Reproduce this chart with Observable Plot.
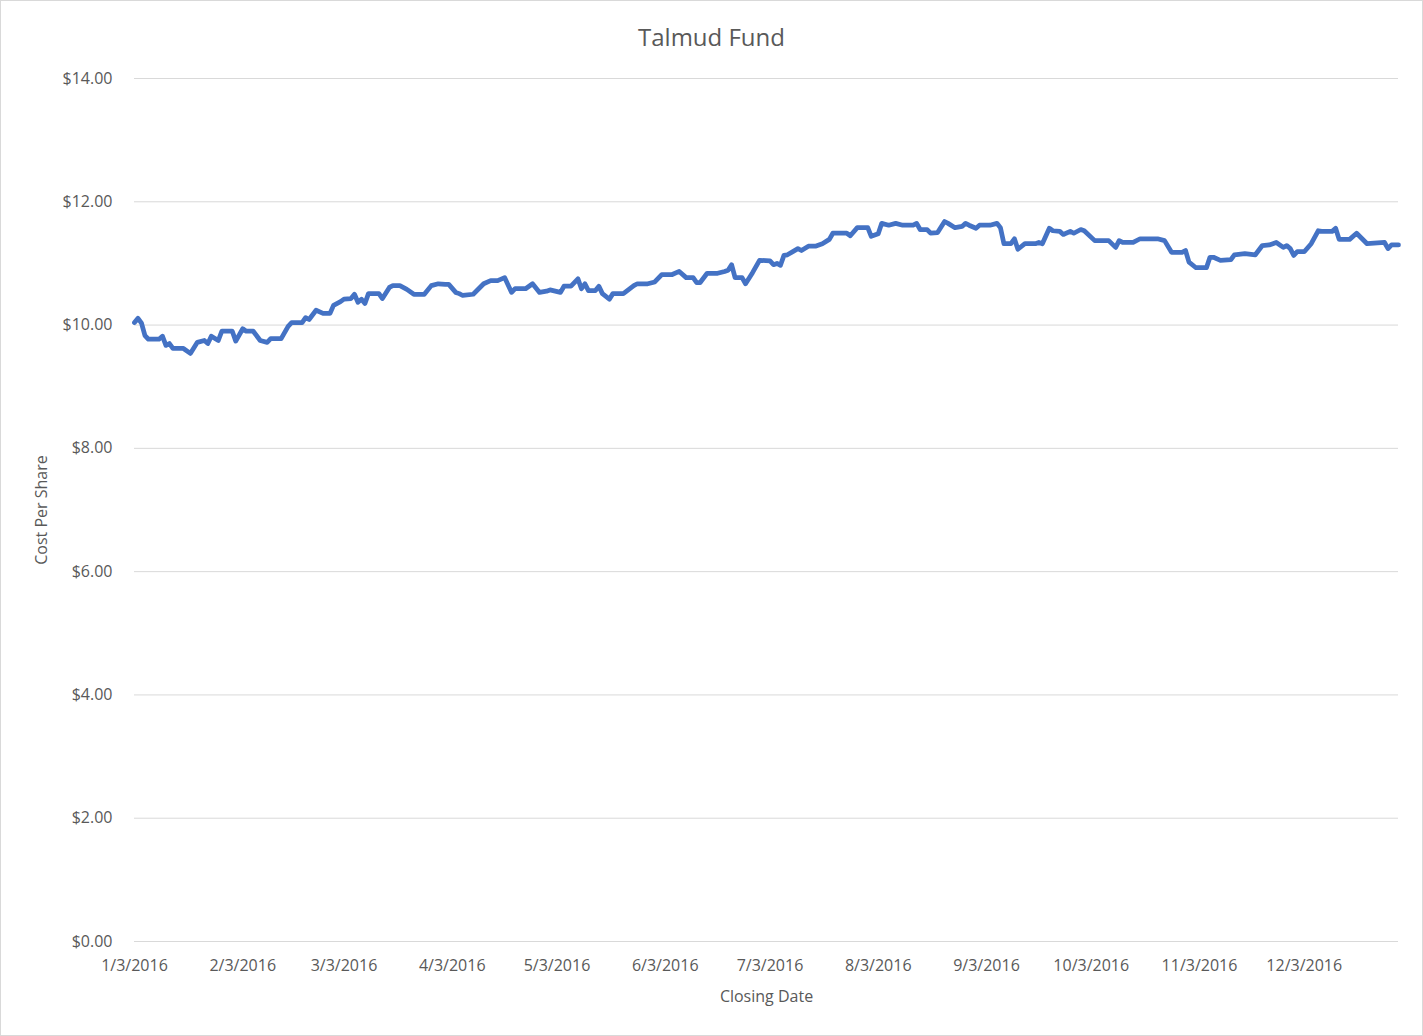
<!DOCTYPE html>
<html>
<head>
<meta charset="utf-8">
<script src="https://cdn.jsdelivr.net/npm/d3@7"></script>
<script src="https://cdn.jsdelivr.net/npm/@observablehq/plot@0.6"></script>
<style>
  body { margin: 0; background: #fff; }
  #wrap { position: relative; width: 1423px; height: 1036px; }
  #border { position: absolute; left: 0; top: 0; width: 1423px; height: 1036px;
    box-sizing: border-box; border: 1px solid #d9d9d9; pointer-events: none; }
</style>
</head>
<body>
<div id="wrap"><div id="chart"></div><div id="border"></div></div>
<script>
const title = 'Talmud Fund'
const yLabel = 'Cost Per Share'
const xLabel = 'Closing Date'

// closing dates
const dates = [
  '2016-01-03','2016-01-04','2016-01-05','2016-01-06','2016-01-07','2016-01-10','2016-01-11','2016-01-12',
  '2016-01-13','2016-01-14','2016-01-17','2016-01-19','2016-01-21','2016-01-23','2016-01-24','2016-01-25',
  '2016-01-27','2016-01-28','2016-01-31','2016-02-01','2016-02-03','2016-02-04','2016-02-06','2016-02-08',
  '2016-02-10','2016-02-11','2016-02-14','2016-02-16','2016-02-17','2016-02-20','2016-02-21','2016-02-22',
  '2016-02-24','2016-02-26','2016-02-28','2016-02-29','2016-03-02','2016-03-03','2016-03-05','2016-03-06',
  '2016-03-07','2016-03-08','2016-03-09','2016-03-10','2016-03-13','2016-03-14','2016-03-16','2016-03-17',
  '2016-03-19','2016-03-21','2016-03-23','2016-03-26','2016-03-28','2016-03-30','2016-04-01','2016-04-02',
  '2016-04-04','2016-04-05','2016-04-06','2016-04-09','2016-04-12','2016-04-14','2016-04-16','2016-04-18',
  '2016-04-20','2016-04-21','2016-04-24','2016-04-26','2016-04-28','2016-04-30','2016-05-01','2016-05-04',
  '2016-05-05','2016-05-07','2016-05-09','2016-05-10','2016-05-11','2016-05-12','2016-05-14','2016-05-15',
  '2016-05-16','2016-05-18','2016-05-19','2016-05-22','2016-05-25','2016-05-26','2016-05-29','2016-05-31',
  '2016-06-02','2016-06-05','2016-06-07','2016-06-09','2016-06-11','2016-06-12','2016-06-13','2016-06-15',
  '2016-06-18','2016-06-20','2016-06-21','2016-06-22','2016-06-23','2016-06-25','2016-06-26','2016-06-28',
  '2016-06-30','2016-07-03','2016-07-04','2016-07-05','2016-07-06','2016-07-07','2016-07-08','2016-07-11',
  '2016-07-12','2016-07-14','2016-07-16','2016-07-18','2016-07-20','2016-07-21','2016-07-25','2016-07-26',
  '2016-07-28','2016-07-31','2016-08-01','2016-08-03','2016-08-04','2016-08-06','2016-08-08','2016-08-10',
  '2016-08-13','2016-08-14','2016-08-15','2016-08-17','2016-08-18','2016-08-20','2016-08-22','2016-08-23',
  '2016-08-25','2016-08-27','2016-08-28','2016-08-29','2016-08-31','2016-09-01','2016-09-04','2016-09-06',
  '2016-09-07','2016-09-08','2016-09-10','2016-09-11','2016-09-12','2016-09-14','2016-09-17','2016-09-18',
  '2016-09-19','2016-09-21','2016-09-22','2016-09-24','2016-09-25','2016-09-27','2016-09-28','2016-09-30',
  '2016-10-01','2016-10-04','2016-10-08','2016-10-10','2016-10-11','2016-10-12','2016-10-15','2016-10-17',
  '2016-10-22','2016-10-24','2016-10-26','2016-10-29','2016-10-30','2016-10-31','2016-11-02','2016-11-05',
  '2016-11-06','2016-11-07','2016-11-09','2016-11-12','2016-11-13','2016-11-16','2016-11-19','2016-11-21',
  '2016-11-23','2016-11-25','2016-11-27','2016-11-28','2016-11-29','2016-11-30','2016-12-01','2016-12-03',
  '2016-12-05','2016-12-07','2016-12-08','2016-12-11','2016-12-12','2016-12-13','2016-12-16','2016-12-18',
  '2016-12-21','2016-12-26','2016-12-27','2016-12-28','2016-12-30'
]

const prices = [
  10.04,10.11,10.03,9.83,9.77,9.77,9.82,9.67,
  9.70,9.62,9.62,9.54,9.72,9.75,9.70,9.82,
  9.75,9.90,9.90,9.74,9.94,9.90,9.90,9.75,
  9.72,9.78,9.78,9.98,10.04,10.04,10.12,10.09,
  10.24,10.19,10.19,10.32,10.38,10.42,10.43,10.50,
  10.37,10.42,10.35,10.51,10.51,10.43,10.61,10.64,
  10.64,10.58,10.50,10.50,10.64,10.67,10.66,10.66,
  10.53,10.51,10.48,10.50,10.67,10.72,10.72,10.77,
  10.53,10.59,10.59,10.67,10.53,10.55,10.57,10.53,
  10.63,10.63,10.75,10.59,10.67,10.56,10.56,10.63,
  10.51,10.42,10.51,10.51,10.64,10.67,10.67,10.70,
  10.82,10.82,10.87,10.77,10.77,10.69,10.69,10.84,
  10.84,10.87,10.89,10.98,10.77,10.77,10.67,10.85,
  11.05,11.04,10.98,11.00,10.97,11.13,11.14,11.24,
  11.21,11.28,11.28,11.32,11.39,11.49,11.49,11.45,
  11.58,11.58,11.44,11.48,11.65,11.62,11.65,11.62,
  11.62,11.65,11.55,11.55,11.49,11.50,11.68,11.65,
  11.58,11.60,11.65,11.62,11.57,11.62,11.62,11.65,
  11.58,11.32,11.32,11.40,11.23,11.32,11.32,11.34,
  11.32,11.57,11.53,11.52,11.47,11.52,11.49,11.55,
  11.53,11.37,11.37,11.26,11.37,11.34,11.34,11.40,
  11.40,11.37,11.18,11.18,11.21,11.02,10.93,10.93,
  11.10,11.10,11.05,11.06,11.14,11.16,11.14,11.29,
  11.30,11.34,11.26,11.29,11.24,11.13,11.19,11.19,
  11.32,11.53,11.52,11.52,11.57,11.39,11.39,11.49,
  11.32,11.34,11.24,11.30,11.30
]

const yTicks = [0, 2, 4, 6, 8, 10, 12, 14]
const xTicks = ['2016-01-03','2016-02-03','2016-03-03','2016-04-03','2016-05-03','2016-06-03',
  '2016-07-03','2016-08-03','2016-09-03','2016-10-03','2016-11-03','2016-12-03']
const xDomain = ['2016-01-03', '2016-12-30']

const data = dates.map((d, i) => ({date: new Date(d), price: prices[i]}))

let chart = Plot.plot({
  width: 1423,
  height: 1036,
  marginLeft: 134,
  marginRight: 25,
  marginTop: 78,
  marginBottom: 95,
  x: {
    type: 'utc',
    domain: xDomain.map(d => new Date(d)),
    ticks: xTicks.map(d => new Date(d)),
    tickFormat: d => `${d.getUTCMonth() + 1}/${d.getUTCDate()}/${d.getUTCFullYear()}`,
    tickSize: 0,
    tickPadding: 18,
    label: null
  },
  y: {
    domain: [0, 14],
    ticks: yTicks,
    tickFormat: d => '$' + d.toFixed(2),
    tickSize: 0,
    tickPadding: 22,
    label: null
  },
  style: {
    fontFamily: '"Segoe UI", "Open Sans", sans-serif',
    fontSize: '16px',
    color: '#595959',
    background: '#fff'
  },
  marks: [
    Plot.ruleY(yTicks, {stroke: '#d9d9d9', strokeWidth: 1}),
    Plot.line(data, {
      x: 'date', y: 'price',
      stroke: '#4472c4', strokeWidth: 4.75,
      strokeLinejoin: 'round', strokeLinecap: 'round'
    }),
    Plot.text([title], {
      frameAnchor: 'top', dy: -50, dx: -55,
      fontSize: 24, fill: '#595959'
    }),
    Plot.text([yLabel], {
      frameAnchor: 'left', dx: -93, rotate: -90, textAnchor: 'middle',
      fontSize: 16, fill: '#595959'
    }),
    Plot.text([xLabel], {
      frameAnchor: 'bottom', dy: 60,
      fontSize: 16, fill: '#595959'
    })
  ]
})
d3.select('#chart').append(() => chart)
</script>
</body>
</html>
